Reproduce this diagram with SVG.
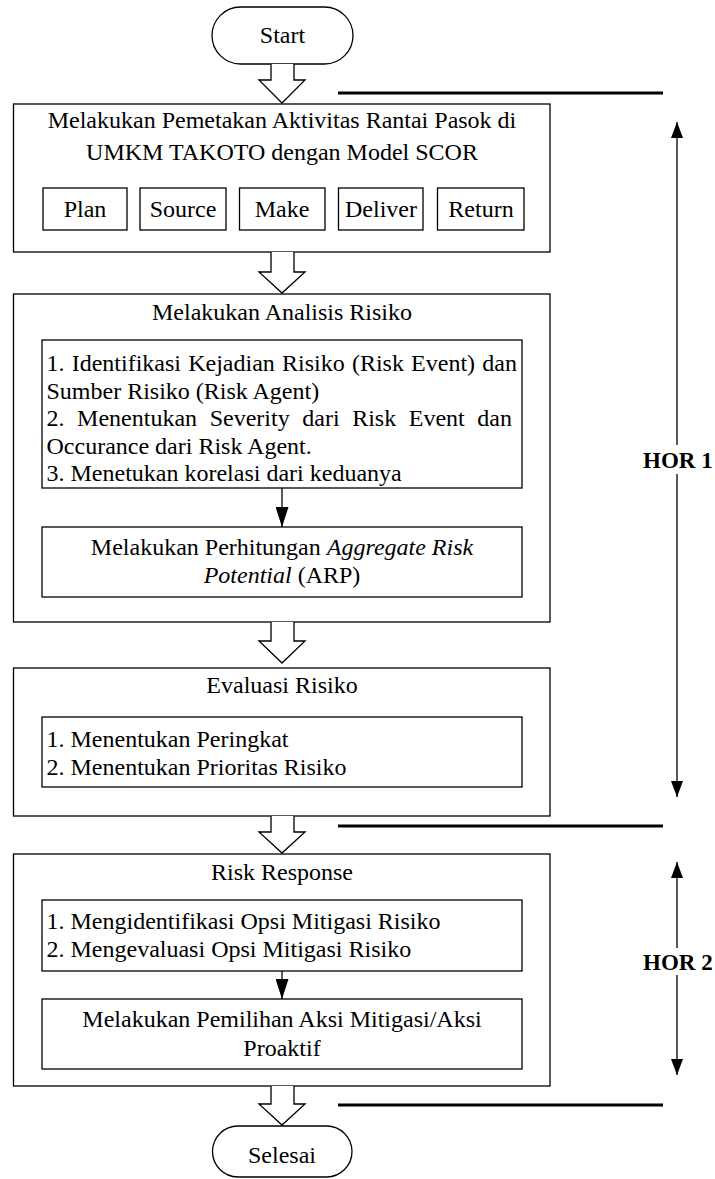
<svg xmlns="http://www.w3.org/2000/svg" width="715" height="1179" viewBox="0 0 715 1179">
<style>
.box{fill:#fff;stroke:#000;stroke-width:1.3}
.blk{fill:#fff;stroke:#000;stroke-width:1.3;stroke-linejoin:miter}
.t{font-family:"Liberation Serif","Times New Roman",serif;font-size:24px;fill:#000}
.c{text-anchor:middle}
.b{font-weight:bold;font-size:23px}
.i{font-style:italic}
.thin{stroke:#000;stroke-width:1.3;fill:none}
.thick{stroke:#000;stroke-width:3;fill:none}
</style>
<defs>
<marker id="ah" viewBox="0 0 20 13" refX="20" refY="6.5" markerWidth="20" markerHeight="13" markerUnits="userSpaceOnUse" orient="auto">
<path d="M0,0 L20,6.5 L0,13 Z" fill="#000"/>
</marker>
<marker id="ah2" viewBox="0 0 16 12" refX="16" refY="6" markerWidth="16" markerHeight="12" markerUnits="userSpaceOnUse" orient="auto">
<path d="M0,0 L16,6 L0,12 Z" fill="#000"/>
</marker>
</defs>

<g id="start">
<rect class="box" x="212" y="7" width="141" height="57" rx="28.5"/>
<text class="t c" x="282.5" y="43">Start</text>
</g>

<g id="mapping">
<rect class="box" x="13.5" y="104" width="536.5" height="148"/>
<text class="t c" x="282" y="128">Melakukan Pemetakan Aktivitas Rantai Pasok di</text>
<text class="t c" x="282" y="160">UMKM TAKOTO dengan Model SCOR</text>
<g id="plan"><rect class="box" x="43" y="188" width="84" height="42"/><text class="t c" x="85" y="217">Plan</text></g>
<g id="source"><rect class="box" x="140" y="188" width="86" height="42"/><text class="t c" x="183" y="217">Source</text></g>
<g id="make"><rect class="box" x="239.5" y="188" width="85.5" height="42"/><text class="t c" x="282" y="217">Make</text></g>
<g id="deliver"><rect class="box" x="338.5" y="188" width="84.5" height="42"/><text class="t c" x="381" y="217">Deliver</text></g>
<g id="return"><rect class="box" x="437.5" y="188" width="86.5" height="42"/><text class="t c" x="481" y="217">Return</text></g>
</g>

<g id="analysis">
<rect class="box" x="13.5" y="294" width="536.5" height="328"/>
<text class="t c" x="282" y="320">Melakukan Analisis Risiko</text>
<g id="identify">
<rect class="box" x="42" y="340" width="480" height="148"/>
<text class="t" x="46.5" y="371" word-spacing="1.2">1. Identifikasi Kejadian Risiko (Risk Event) dan</text>
<text class="t" x="46.5" y="398.5">Sumber Risiko (Risk Agent)</text>
<text class="t" x="46.5" y="426" word-spacing="6.6">2. Menentukan Severity dari Risk Event dan</text>
<text class="t" x="46.5" y="453.5">Occurance dari Risk Agent.</text>
<text class="t" x="46.5" y="481">3. Menetukan korelasi dari keduanya</text>
</g>
<g id="arp">
<rect class="box" x="42" y="527" width="480" height="70"/>
<text class="t c" x="282" y="555">Melakukan Perhitungan <tspan class="i">Aggregate Risk</tspan></text>
<text class="t c" x="282" y="583"><tspan class="i">Potential</tspan> (ARP)</text>
</g>
</g>

<g id="evaluation">
<rect class="box" x="13.5" y="668" width="536.5" height="148"/>
<text class="t c" x="282" y="693">Evaluasi Risiko</text>
<g id="rank">
<rect class="box" x="42" y="717" width="480" height="70"/>
<text class="t" x="46.5" y="747">1. Menentukan Peringkat</text>
<text class="t" x="46.5" y="775">2. Menentukan Prioritas Risiko</text>
</g>
</g>

<g id="response">
<rect class="box" x="13.5" y="854" width="536.5" height="232"/>
<text class="t c" x="282" y="880">Risk Response</text>
<g id="mitigation">
<rect class="box" x="42" y="900" width="480" height="71"/>
<text class="t" x="46.5" y="929">1. Mengidentifikasi Opsi Mitigasi Risiko</text>
<text class="t" x="46.5" y="957">2. Mengevaluasi Opsi Mitigasi Risiko</text>
</g>
<g id="proactive">
<rect class="box" x="42" y="999" width="480" height="70"/>
<text class="t c" x="282" y="1027">Melakukan Pemilihan Aksi Mitigasi/Aksi</text>
<text class="t c" x="282" y="1056">Proaktif</text>
</g>
</g>

<g id="finish">
<rect class="box" x="212.5" y="1126" width="139.5" height="51" rx="25.5"/>
<text class="t c" x="282" y="1163">Selesai</text>
</g>

<g id="hor1">
<text class="t b" x="643" y="468">HOR 1</text>
</g>
<g id="hor2">
<text class="t b" x="643" y="970">HOR 2</text>
</g>

<g id="connectors">
<path class="blk" d="M271,64 V80 H259 L282,103 L305,80 H294 V64"/>
<path class="blk" d="M271,252 V272 H259 L282,293 L305,272 H294 V252"/>
<path class="blk" d="M271,622 V641 H259 L282,663 L305,641 H294 V622"/>
<path class="blk" d="M271,816 V832 H259 L282,853 L305,832 H294 V816"/>
<path class="blk" d="M271,1086 V1104 H259 L282,1125 L305,1104 H294 V1086"/>
<line class="thin" x1="282" y1="488" x2="282" y2="527" marker-end="url(#ah)"/>
<line class="thin" x1="282" y1="971" x2="282" y2="999" marker-end="url(#ah)"/>
<line class="thick" x1="338" y1="93" x2="663" y2="93"/>
<line class="thick" x1="338" y1="826" x2="663" y2="826"/>
<line class="thick" x1="338" y1="1105" x2="663" y2="1105"/>
<line class="thin" x1="677" y1="445" x2="677" y2="122" marker-end="url(#ah2)"/>
<line class="thin" x1="677" y1="474" x2="677" y2="797" marker-end="url(#ah2)"/>
<line class="thin" x1="677" y1="948" x2="677" y2="862" marker-end="url(#ah2)"/>
<line class="thin" x1="677" y1="975" x2="677" y2="1075" marker-end="url(#ah2)"/>
</g>
</svg>
